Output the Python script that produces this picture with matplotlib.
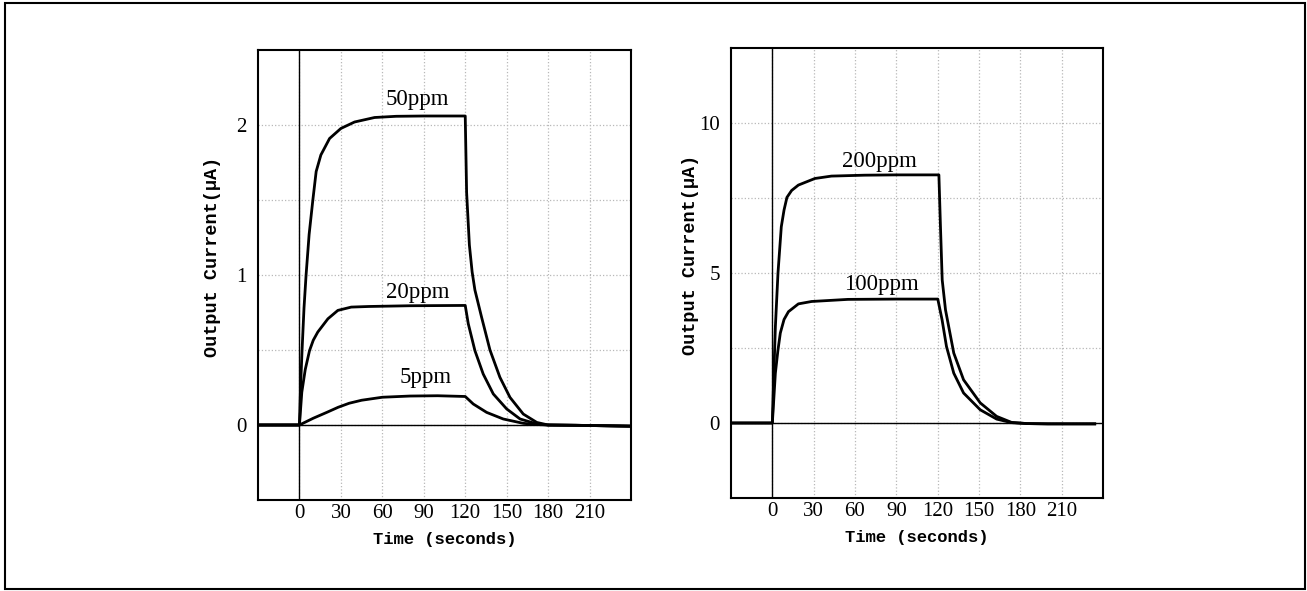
import matplotlib
matplotlib.use("Agg")
import matplotlib.pyplot as plt
from matplotlib.patches import Rectangle

# left panel (low concentrations)
t50 = [-30, 0, 0.8, 1.9, 3.3, 4.8, 7, 9.7, 12.1, 15.5, 21.8, 30, 39.9, 54.4, 70, 90, 120,
       121, 123, 125, 127, 131.8, 137.9, 145.1, 152.4, 162, 171.8, 180, 200, 220, 240]
y50 = [0, 0, 0.25, 0.5, 0.78, 1.0, 1.27, 1.5, 1.69, 1.80, 1.91, 1.977, 2.02, 2.05, 2.058, 2.06, 2.06,
       1.55, 1.2, 1.02, 0.90, 0.72, 0.5, 0.318, 0.184, 0.073, 0.017, 0.0, -0.002, -0.005, -0.008]

t20 = [-30, 0, 1.7, 4.2, 7.3, 10, 13.3, 20.6, 27.8, 37.5, 50, 80, 120,
       122.2, 127, 133, 140.3, 150, 159.7, 171.8, 180, 200, 220, 240]
y20 = [0, 0, 0.218, 0.37, 0.496, 0.565, 0.62, 0.708, 0.764, 0.786, 0.79, 0.795, 0.797,
       0.675, 0.496, 0.34, 0.207, 0.107, 0.04, 0.007, 0.0, -0.002, -0.005, -0.008]

t5 = [-30, 0, 10, 20, 28, 36, 45, 60, 80, 100, 120,
      125.8, 135.5, 147.5, 162, 172, 180, 200, 220, 240]
y5 = [0, 0, 0.045, 0.085, 0.118, 0.145, 0.165, 0.185, 0.193, 0.195, 0.19,
      0.14, 0.084, 0.04, 0.011, 0.003, 0.0, -0.002, -0.005, -0.008]

# right panel (high concentrations)
t200 = [-30, 0, 1, 2.2, 4.1, 6.5, 8.5, 10.6, 14, 18.9, 30.9, 42.9, 66.9, 90, 120.9,
        122, 123.3, 125.7, 131.7, 138.8, 150.9, 162.8, 173.6, 185, 200, 220, 234]
y200 = [0, 0, 1.5, 3.2, 5.0, 6.54, 7.1, 7.52, 7.75, 7.93, 8.15, 8.23, 8.26, 8.27, 8.27,
        6.6, 4.77, 3.77, 2.33, 1.44, 0.67, 0.22, 0.02, -0.02, -0.03, -0.03, -0.03]

t100 = [-30, 0, 1, 2.2, 4, 5.8, 8.5, 11.7, 18.9, 28.5, 54.9, 90, 120.1,
        123.2, 126.4, 131.7, 138.8, 150.9, 162.8, 173.6, 185, 200, 220, 234]
y100 = [0, 0, 0.75, 1.66, 2.4, 3.0, 3.45, 3.71, 3.97, 4.05, 4.12, 4.13, 4.13,
        3.44, 2.55, 1.66, 1.0, 0.44, 0.13, 0.01, -0.02, -0.03, -0.03, -0.03]

xticks = [0, 30, 60, 90, 120, 150, 180, 210]

fig = plt.figure(figsize=(13.07, 5.91), dpi=100)
fig.patches.append(Rectangle((0.0038, 0.0034), 0.9946, 0.9915, transform=fig.transFigure,
                             fill=False, edgecolor='black', linewidth=1.5))

ax1 = fig.add_axes([0.1974, 0.154, 0.2854, 0.7614])
ax2 = fig.add_axes([0.5593, 0.1574, 0.2846, 0.7614])

mono = 'Liberation Mono'

def style(ax, ymin, ymax, major, minor, ylab_x):
    ax.set_xlim(-30, 240)
    ax.set_ylim(ymin, ymax)
    ax.set_xticks(xticks)
    ax.set_yticks(major)
    ax.set_yticks(minor, minor=True)
    ax.grid(True, which='both', color='#b8b8b8', linestyle=':', linewidth=0.9)
    ax.tick_params(which='both', length=0)
    ax.tick_params(axis='x', pad=3)
    ax.tick_params(axis='y', pad=8)
    for lab in ax.get_xticklabels() + ax.get_yticklabels():
        lab.set_family('Liberation Serif')
        lab.set_fontsize(15)
    for s in ax.spines.values():
        s.set_linewidth(1.5)
    ax.axhline(0, color='black', linewidth=1.0, zorder=2)
    ax.axvline(0, color='black', linewidth=1.0, zorder=2)
    ax.set_xlabel('Time (seconds)', family=mono, fontsize=12.3, fontweight='bold')
    ax.xaxis.set_label_coords(0.5, -0.071)
    ax.set_ylabel('Output Current(μA)', family=mono, fontsize=13.3, fontweight='bold')
    ax.yaxis.set_label_coords(ylab_x, 0.54)

style(ax1, -0.5, 2.5, [0, 1, 2], [0.5, 1.5], -0.10)
style(ax2, -2.5, 12.5, [0, 5, 10], [2.5, 7.5], -0.085)

for t, y in [(t50, y50), (t20, y20), (t5, y5)]:
    ax1.plot(t, y, color='black', linewidth=2.0, zorder=3, solid_joinstyle='round')
for t, y in [(t200, y200), (t100, y100)]:
    ax2.plot(t, y, color='black', linewidth=2.0, zorder=3, solid_joinstyle='round')

lab_font = dict(family='Liberation Serif', fontsize=16.5, ha='center', va='center')
ax1.text(85.6, 2.17, '50ppm', **lab_font)
ax1.text(85.6, 0.886, '20ppm', **lab_font)
ax1.text(91.4, 0.314, '5ppm', **lab_font)
ax2.text(77.7, 8.73, '200ppm', **lab_font)
ax2.text(78.9, 4.6, '100ppm', **lab_font)

fig.savefig('out.png', dpi=100)
